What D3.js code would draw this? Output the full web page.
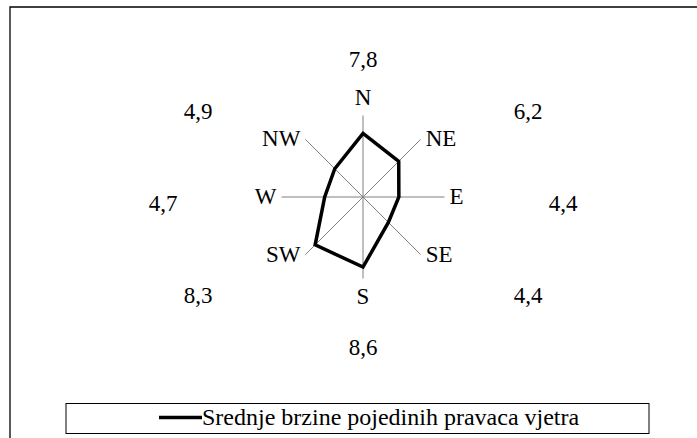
<!DOCTYPE html>
<html>
<head>
<meta charset="utf-8">
<script src="https://cdn.jsdelivr.net/npm/d3@7"></script>
<style>
  body { margin: 0; background: #fff; }
  svg text { font-family: 'Liberation Serif', 'Times New Roman', Times, 'DejaVu Serif', serif; font-size: 23px; fill: #000; }
</style>
</head>
<body>
<div id="chart"></div>
<script>
const directions = ['N', 'NE', 'E', 'SE', 'S', 'SW', 'W', 'NW'];
const speeds = [7.8, 6.2, 4.4, 4.4, 8.6, 8.3, 4.7, 4.9];
const seriesName = 'Srednje brzine pojedinih pravaca vjetra';
const maxValue = 10;

const width = 697, height = 438;
const cx = 363, cy = 197, radius = 81.5;

const svg = d3.select('#chart')
  .append('svg')
  .attr('width', width)
  .attr('height', height);

// outer frame (top + left visible)
svg.append('path')
  .attr('d', `M10,${height} L10,7 L${width},7`)
  .attr('fill', 'none')
  .attr('stroke', '#000')
  .attr('stroke-width', 1.3);

const angle = d3.scalePoint()
  .domain(directions)
  .range([0, 2 * Math.PI * 7 / 8]);

const r = d3.scaleLinear()
  .domain([0, maxValue])
  .range([0, radius]);

const g = svg.append('g')
  .attr('transform', `translate(${cx},${cy})`);

const px = (d, v) => r(v) * Math.sin(angle(d));
const py = (d, v) => -r(v) * Math.cos(angle(d));

// spokes
g.selectAll('.spoke')
  .data(directions)
  .enter()
  .append('line')
  .attr('x1', 0).attr('y1', 0)
  .attr('x2', d => px(d, maxValue))
  .attr('y2', d => py(d, maxValue))
  .attr('stroke', '#808080')
  .attr('stroke-width', 1);

// series polygon
const line = d3.lineRadial()
  .angle(d => angle(d.dir))
  .radius(d => r(d.value))
  .curve(d3.curveLinearClosed);

g.append('path')
  .datum(directions.map((dir, i) => ({ dir, value: speeds[i] })))
  .attr('d', line)
  .attr('fill', 'none')
  .attr('stroke', '#000')
  .attr('stroke-width', 3.5)
  .attr('stroke-linejoin', 'miter');

// direction labels
g.selectAll('.dir-label')
  .data(directions)
  .enter()
  .append('text')
  .attr('x', d => {
    const s = Math.sin(angle(d));
    return px(d, maxValue) + (s > 0.1 ? 5 : s < -0.1 ? -5 : 0);
  })
  .attr('y', d => {
    const c = Math.cos(angle(d));
    if (c > 0.9) return py(d, maxValue) - 11;
    if (c < -0.9) return py(d, maxValue) + 25;
    return py(d, maxValue) + 7;
  })
  .attr('text-anchor', d => {
    const s = Math.sin(angle(d));
    return s > 0.1 ? 'start' : s < -0.1 ? 'end' : 'middle';
  })
  .text(d => d);

// value labels on an outer ring
const ringX = 200, ringY = 144, ringCy = 6;
g.selectAll('.val-label')
  .data(directions)
  .enter()
  .append('text')
  .attr('text-anchor', 'middle')
  .attr('x', d => {
    const s = Math.sin(angle(d));
    return ringX * Math.sign(s) * Math.pow(Math.abs(s), 0.555);
  })
  .attr('y', d => {
    const c = Math.cos(angle(d));
    return ringCy - ringY * Math.sign(c) * Math.pow(Math.abs(c), 1.28) + 8;
  })
  .text((d, i) => d3.format('.1f')(speeds[i]).replace('.', ','));

// legend
const legend = svg.append('g');
legend.append('rect')
  .attr('x', 66).attr('y', 403.5)
  .attr('width', 583).attr('height', 30)
  .attr('fill', 'none')
  .attr('stroke', '#000')
  .attr('stroke-width', 1);
legend.append('line')
  .attr('x1', 159).attr('x2', 202)
  .attr('y1', 417.5).attr('y2', 417.5)
  .attr('stroke', '#000')
  .attr('stroke-width', 3.5);
legend.append('text')
  .attr('x', 202).attr('y', 425)
  .style('font-size', '24px')
  .text(seriesName);
</script>
</body>
</html>
